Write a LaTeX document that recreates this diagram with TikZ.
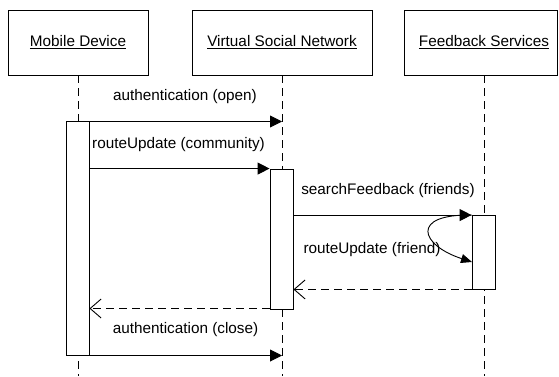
\documentclass[tikz,border=0pt]{standalone}
\usepackage{fontspec}
\setmainfont{Liberation Sans}
\usetikzlibrary{arrows.meta}
\begin{document}
\begin{tikzpicture}[x=1pt,y=-1pt,
  every node/.style={font=\fontsize{15.3}{18}\selectfont, inner sep=0pt},
  objbox/.style={draw, line width=0.9pt, minimum height=65pt},
  actbox/.style={draw, fill=white, line width=0.9pt, minimum width=23pt},
  lifeline/.style={line width=0.9pt, dash pattern=on 8pt off 5pt},
  callmsg/.style={line width=0.9pt, -{Triangle[length=12pt,width=12pt]}},
  retmsg/.style={line width=0.9pt, dash pattern=on 8pt off 5pt, -{Straight Barb[length=11pt,width=19pt]}},
  lbl/.style={}]
\useasboundingbox (0,0) rectangle (559,376);
% objects
\node[objbox, minimum width=140pt] (md) at (78,42.5) {\underline{Mobile Device}};
\node[objbox, minimum width=180pt] (vsn) at (282,42.5) {\underline{Virtual Social Network}};
\node[objbox, minimum width=153pt] (fs) at (480.5,42.5) {};
\node (fsl) at (484,42.5) {\underline{Feedback Services}};
% lifeline coordinates
\coordinate (mdt) at (78,75);
\coordinate (mdb) at (78,376);
\coordinate (vst) at (282,75);
\coordinate (vsb) at (282,376);
\coordinate (fst) at (484,75);
\coordinate (fsb) at (484,376);
\draw[lifeline] (mdt) -- (mdb);
\draw[lifeline] (vst) -- (vsb);
\draw[lifeline] (fst) -- (fsb);
% activations
\node[actbox, minimum height=234.5pt] (am) at (77.5,238.25) {};
\node[actbox, minimum height=140pt] (av) at (281.5,239) {};
\node[actbox, minimum width=23.5pt, minimum height=73.5pt] (af) at (483.75,252.25) {};
% free ends
\coordinate (v1) at (282,121.5);
\coordinate (v7) at (282,355.5);
\coordinate (selfend) at (472,262);
% messages
\draw[callmsg] (am.east |- v1) -- (v1);
\node[lbl] (l1) at (185,97) {authentication (open)};
\draw[callmsg] (am.east |- av.north) -- (av.north west);
\node[lbl] (l2) at (178.5,145) {routeUpdate (community)};
\draw[callmsg] (av.east |- af.north) -- (af.north west);
\node[lbl] (l3) at (388,191) {searchFeedback (friends)};
\draw[line width=0.9pt, -{Triangle[length=11pt,width=9pt]}] (af.north west) .. controls (410,214) and (420,245) .. (selfend);
\node[lbl] (l4) at (372,250) {routeUpdate (friend)};
\draw[retmsg] (af.south west) -- (av.east |- af.south);
\draw[retmsg] (av.south west |- 0,308.5) -- (am.east |- 0,308.5);
\draw[callmsg] (am.east |- v7) -- (v7);
\node[lbl] (l7) at (185.5,330) {authentication (close)};
\end{tikzpicture}
\end{document}
